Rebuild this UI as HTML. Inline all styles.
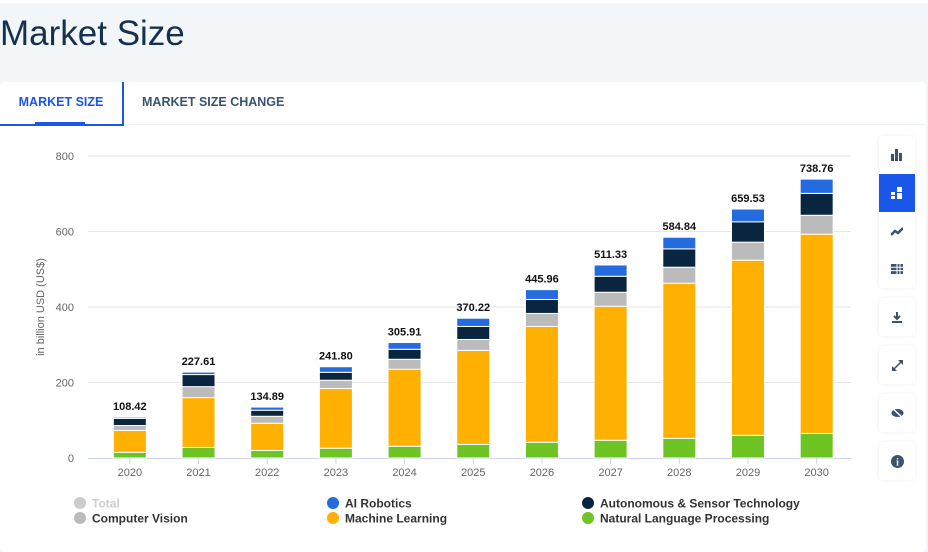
<!DOCTYPE html>
<html><head><meta charset="utf-8"><style>
body{margin:0;width:928px;height:542px;overflow:hidden;background:#f3f6f9;font-family:"Liberation Sans",sans-serif;position:relative}
#topline{position:absolute;left:0;top:0;width:928px;height:3px;background:#fff}
h1{position:absolute;left:0;top:14px;margin:0;font-weight:normal;font-size:35px;color:#16304f;letter-spacing:0}
#card{position:absolute;left:0;top:82px;width:926px;height:470px;background:#fff;border-radius:4px}
.tab{position:absolute;top:0;height:42px;line-height:40px;font-size:12.5px;font-weight:bold;color:#3b5270}
#t1{left:0;width:122px;border-right:2px solid #1a56e8;border-bottom:2px solid #1a56e8;color:#1a56e8;text-align:center}
#t1u{position:absolute;left:35px;top:40px;width:50px;height:3px;background:#1a56e8}
#t2{left:142px}
#tabsep{position:absolute;left:124px;top:42px;width:802px;height:1px;background:#eef1f5}
.sb{position:absolute;left:879px;width:36px;background:#fff;border-radius:4px;box-shadow:0 0 4px rgba(0,0,0,.08);display:flex;flex-direction:column}
.sbi{height:38px;display:flex;align-items:center;justify-content:center;color:#3b5270;font-size:13px}
.act{background:#1a56e8;color:#fff}
</style></head><body>
<div id="topline"></div>
<h1>Market Size</h1>
<div id="card">
<div class="tab" id="t1">MARKET SIZE</div>
<div id="t1u"></div>
<div class="tab" id="t2">MARKET SIZE CHANGE</div>
<div id="tabsep"></div>
</div>
<div class="sb" style="top:136px">
<div class="sbi"><svg width="12" height="12"><rect x="0" y="5" width="3" height="7" fill="#3b5270"/><rect x="4" y="0" width="3" height="12" fill="#3b5270"/><rect x="8" y="4" width="3" height="8" fill="#3b5270"/></svg></div>
<div class="sbi act"><svg width="12" height="12"><rect x="0" y="5" width="4" height="3" fill="#fff"/><rect x="0" y="9" width="4" height="3" fill="#fff"/><rect x="6" y="0" width="5" height="5" fill="#fff"/><rect x="6" y="6" width="5" height="6" fill="#fff"/></svg></div>
<div class="sbi"><svg width="12" height="10"><path d="M0 9 L4 5 L7 7 L12 2" stroke="#3b5270" stroke-width="2.5" fill="none"/></svg></div>
<div class="sbi"><svg width="12" height="10"><rect x="0" y="0" width="12" height="10" fill="#3b5270"/><path d="M0 3.3H12M0 6.6H12M6 0V10M9 0V10" stroke="#fff" stroke-width="1"/></svg></div>
</div>
<div class="sb" style="top:298px"><div class="sbi"><svg width="10" height="11"><path d="M5 0V7M2 4L5 7L8 4" stroke="#3b5270" stroke-width="2" fill="none"/><rect x="0" y="9" width="10" height="2" fill="#3b5270"/></svg></div></div>
<div class="sb" style="top:346px"><div class="sbi"><svg width="11" height="11"><path d="M1 10L10 1" stroke="#3b5270" stroke-width="1.5"/><path d="M6 0H11V5Z M0 6V11H5Z" fill="#3b5270"/></svg></div></div>
<div class="sb" style="top:394px"><div class="sbi"><svg width="13" height="10"><ellipse cx="6.5" cy="5" rx="6" ry="4" fill="#3b5270"/><path d="M1 0 L12 10" stroke="#fff" stroke-width="1.5"/></svg></div></div>
<div class="sb" style="top:442px"><div class="sbi"><svg width="13" height="13"><circle cx="6.5" cy="6.5" r="6.5" fill="#3b5270"/><text x="6.5" y="10.5" font-size="10" font-weight="bold" fill="#fff" text-anchor="middle" font-family="Liberation Serif">i</text></svg></div></div>

<svg id="chart" width="928" height="542" style="position:absolute;left:0;top:0"></svg>
<script>
const years=["2020","2021","2022","2023","2024","2025","2026","2027","2028","2029","2030"];
const nlp=[15,28,20,26,31,36,41.5,47,52,60,65];
const ml=[58,132,72,158,204,249,307,355,411,464,528];
const cv=[13,29,18.5,22,26.5,29,34.5,37,42.4,47.7,50];
const auto=[19,32,16,21,26.5,34.5,37,42.4,48.6,54,58];
const robo=[3.42,6.61,8.39,14.8,17.91,21.72,25.96,29.93,30.84,33.83,37.76];
const totals=["108.42","227.61","134.89","241.80","305.91","370.22","445.96","511.33","584.84","659.53","738.76"];
const yTicks=[0,200,400,600,800];
const seriesList=[nlp,ml,cv,auto,robo];
const colors=["#6dc423","#ffb000","#bbbbbb","#0a2540","#246be0"];
const NS="http://www.w3.org/2000/svg";
const svg=document.getElementById('chart');
const x0=95.5,x1=851,gx0=88,yBase=458,yTop=156;
function y(v){return yBase-(v/800)*(yBase-yTop);}
function xc(i){return x0+(i+0.5)*(x1-x0)/years.length;}
function el(t,a){const e=document.createElementNS(NS,t);for(const k in a)e.setAttribute(k,a[k]);svg.appendChild(e);return e;}
yTicks.forEach(t=>{
 if(t>0){const g=el('line',{x1:gx0,x2:x1,y1:y(t),y2:y(t),stroke:'#e6e6e6'});
 
 }
 const l=el('text',{x:74,y:y(t)+4,'text-anchor':'end','font-size':11,fill:'#666'});l.textContent=t;
 
 
});
const ax=el('line',{x1:gx0,x2:x1,y1:yBase+0.5,y2:yBase+0.5,stroke:'#ccd6eb'});


const yt=el('text',{x:0,y:0,transform:'translate(44 307) rotate(-90)','text-anchor':'middle','font-size':11,fill:'#666'});yt.textContent='in billion USD (US$)';


years.forEach((yr,i)=>{
 const cx=xc(i),w=33;let acc=0;
 seriesList.forEach((s,k)=>{
  const v=s[i];const r=el('rect',{x:cx-w/2,y:y(acc+v),width:w,height:y(acc)-y(acc+v),fill:colors[k],stroke:'#fff','stroke-width':1});
  
  
  acc+=v;
 });
 const tk=el('line',{x1:cx,x2:cx,y1:yBase,y2:yBase+6,stroke:'#ccd6eb'});
 
 
 const xl=el('text',{x:cx,y:476,'text-anchor':'middle','font-size':11,fill:'#666'});xl.textContent=yr;
 
 
 const tl=el('text',{x:cx,y:y(acc)-7,'text-anchor':'middle','font-size':11,'font-weight':'bold',fill:'#111'});tl.textContent=totals[i];
 
 
});
const legend=[["Total","#cccccc",80,503,"#cccccc"],["AI Robotics","#246be0",333,503,"#333"],["Autonomous & Sensor Technology","#0a2540",588,503,"#333"],["Computer Vision","#bbbbbb",80,518,"#333"],["Machine Learning","#ffb000",333,518,"#333"],["Natural Language Processing","#6dc423",588,518,"#333"]];
legend.forEach(l=>{
 const c=el('circle',{cx:l[2],cy:l[3],r:6,fill:l[1]});
 
 
 const t=el('text',{x:l[2]+12,y:l[3]+4.5,'font-size':12,'font-weight':'bold',fill:l[4]});t.textContent=l[0];
 
 
});
</script>
</body></html>
